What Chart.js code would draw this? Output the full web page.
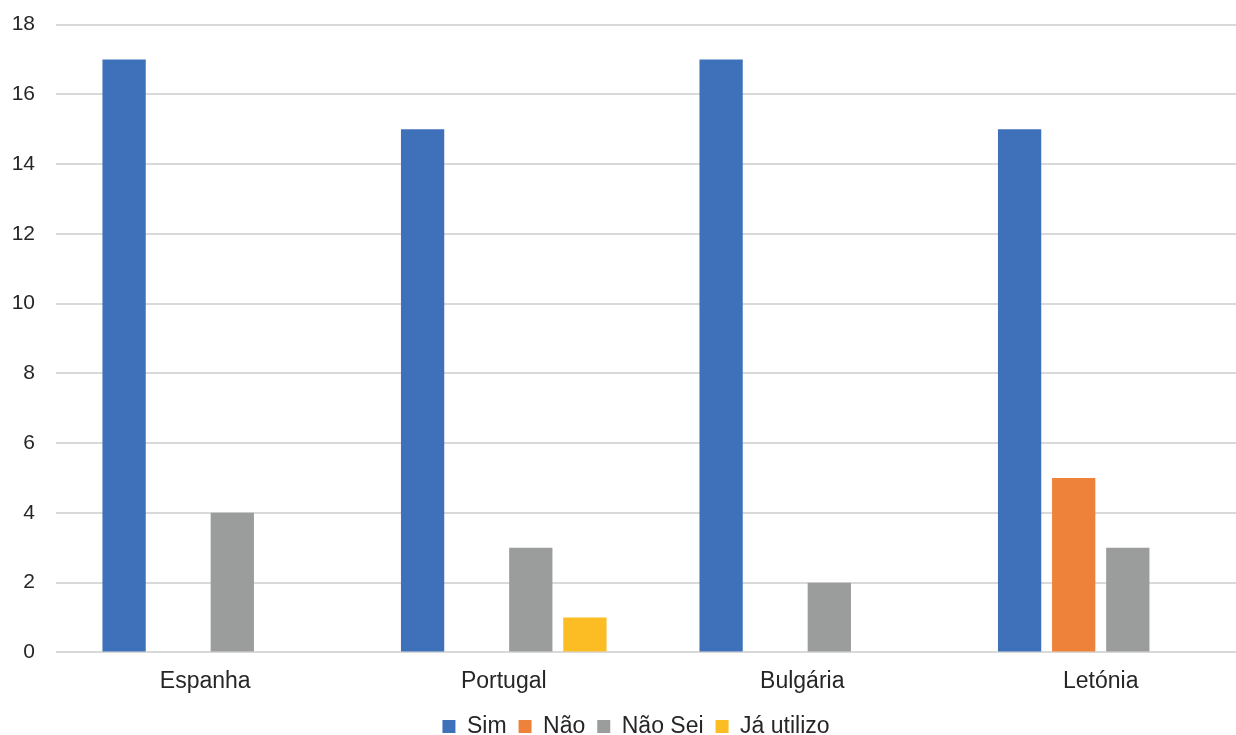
<!DOCTYPE html>
<html>
<head>
<meta charset="utf-8">
<script src="https://cdn.jsdelivr.net/npm/chart.js@4/dist/chart.umd.min.js"></script>
<style>
  html, body { margin: 0; padding: 0; background: #fff; overflow: hidden; }
  #wrap { width: 1250px; height: 735px; }
</style>
</head>
<body>
<div id="wrap"><canvas id="chart" width="1250" height="735"></canvas></div>
<script>
// categories and series
const countries = ["Espanha", "Portugal", "Bulgária", "Letónia"];
const sim = [17, 15, 17, 15];
const nao = [0, 0, 0, 5];
const naoSei = [4, 3, 2, 3];
const jaUtilizo = [0, 1, 0, 0];

const yTicks = { min: 0, max: 18, step: 2 };

const textColor = "#262626";
const gridColor = "#d9d9d9";
const family = "'Liberation Sans', Arial, sans-serif";
const labelFont = { family: family, size: 23 };
const tickFont = { family: family, size: 21 };

function series(label, data, color) {
  return {
    label: label,
    data: data,
    backgroundColor: color,
    borderWidth: 0,
    categoryPercentage: 0.725,
    barPercentage: 0.8
  };
}

// nudge the legend a little to the right of the canvas centre
const legendShift = {
  id: "legendShift",
  afterLayout(chart) {
    chart.legend.left += 6;
    chart.legend.right += 6;
  }
};

const config = {
  type: "bar",
  data: {
    labels: countries,
    datasets: [
      series("Sim", sim, "#3e71ba"),
      series("Não", nao, "#ef823a"),
      series("Não Sei", naoSei, "#9b9d9d"),
      series("Já utilizo", jaUtilizo, "#fbbd23")
    ]
  },
  options: {
    responsive: false,
    animation: false,
    // negative bottom padding pulls the legend close to the bottom edge
    layout: { padding: { left: 10, top: 24.5, right: 0, bottom: -13 } },
    plugins: {
      tooltip: { enabled: false },
      legend: {
        position: "bottom",
        labels: {
          color: textColor,
          font: labelFont,
          boxWidth: 13,
          boxHeight: 13,
          padding: 12
        }
      }
    },
    scales: {
      x: {
        grid: { display: false },
        border: { display: false },
        ticks: { color: textColor, font: labelFont, padding: 7.5 }
      },
      y: {
        min: yTicks.min,
        max: yTicks.max,
        afterFit: function(scale) {
          scale.width = 46;
          // keep the tick padding from pushing the plot down
          scale.paddingTop = 12;
          scale.paddingBottom = 12;
        },
        ticks: { stepSize: yTicks.step, color: textColor, font: tickFont, padding: 21 },
        grid: { color: gridColor, lineWidth: 2, drawTicks: false },
        border: { display: false }
      }
    }
  },
  plugins: [legendShift]
};

new Chart(document.getElementById("chart"), config);
</script>
</body>
</html>
